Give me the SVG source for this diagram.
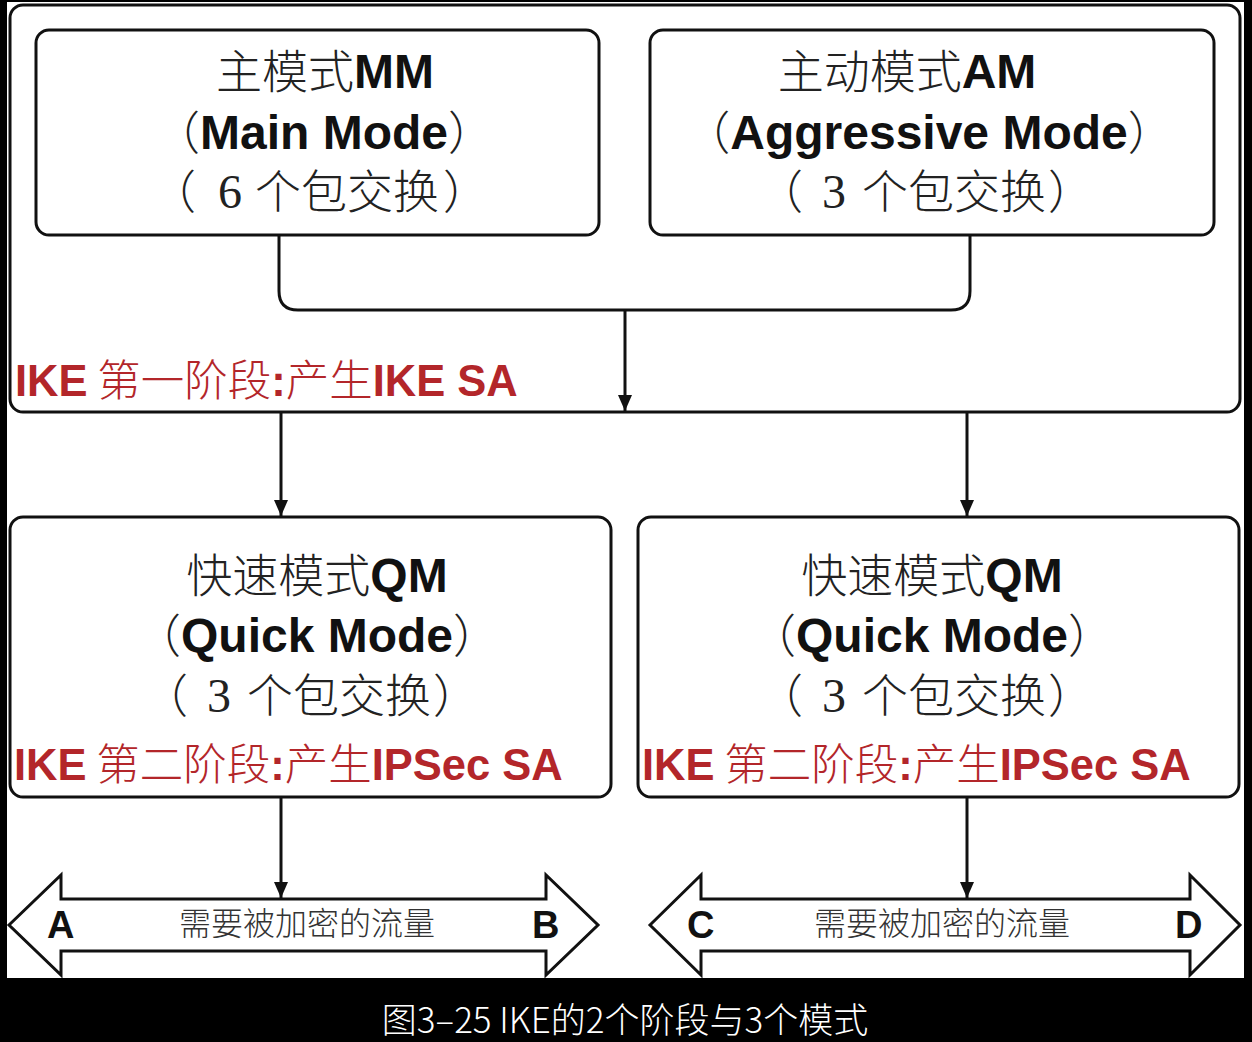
<svg xmlns="http://www.w3.org/2000/svg" width="1252" height="1042" viewBox="0 0 1252 1042">
<style>
.box{fill:#fff;stroke:#111;stroke-width:3}
.ln{fill:none;stroke:#111;stroke-width:3}
.dbl{fill:#fff;stroke:#111;stroke-width:3;stroke-linejoin:miter}
.t{font-family:"Noto Sans CJK SC","Liberation Sans",sans-serif;font-size:46px;fill:#222;font-weight:300;text-anchor:middle}
.ts{font-family:"Noto Sans CJK SC","Liberation Sans",sans-serif;font-size:46px;fill:#222;font-weight:300}
.b{font-family:"Liberation Sans",Arial,sans-serif;font-weight:bold;fill:#111}
.s{font-family:"Liberation Serif","Noto Sans CJK SC",serif;fill:#222;font-size:48px}
.red{font-family:"Noto Sans CJK SC","Liberation Sans",sans-serif;font-size:43.5px;fill:#b3262a;font-weight:300}
.rb{font-family:"Liberation Sans",Arial,sans-serif;font-weight:bold}
.flow{font-family:"Noto Sans CJK SC",sans-serif;font-size:32px;fill:#333;text-anchor:middle;font-weight:300}
.let{font-family:"Liberation Sans",Arial,sans-serif;font-weight:bold;font-size:38px;fill:#111}
.cap{font-family:"Noto Sans CJK SC","Liberation Sans",sans-serif;font-size:35px;fill:#fff;text-anchor:middle;font-weight:300}
</style>
<defs>
<marker id="ah" markerUnits="userSpaceOnUse" markerWidth="16" markerHeight="14" refX="16" refY="7" orient="auto">
<path d="M0,0 L16,7 L0,14 z" fill="#111"/>
</marker>
</defs>
<rect x="0" y="0" width="1252" height="1042" fill="#000"/>
<rect x="7" y="2" width="1237" height="976" fill="#fff"/>

<g id="phase1">
<rect class="box" x="10" y="5" width="1230" height="407" rx="13"/>
<text class="red" x="15" y="396"><tspan class="rb">IKE</tspan> 第一阶段<tspan class="rb">:</tspan>产生<tspan class="rb">IKE SA</tspan></text>
</g>

<g id="mm">
<rect class="box" x="36" y="30" width="563" height="205" rx="13"/>
<text class="t" x="325" y="88">主模式<tspan class="b" font-size="48">MM</tspan></text>
<text class="t" x="324" y="149">（<tspan class="b" font-size="48">Main Mode</tspan>）</text>
<text class="ts" y="208"><tspan x="150">（</tspan><tspan class="s" x="218">6</tspan><tspan x="255">个包交换</tspan><tspan x="443">）</tspan></text>
</g>

<g id="am">
<rect class="box" x="650" y="30" width="564" height="205" rx="13"/>
<text class="t" x="907" y="88">主动模式<tspan class="b" font-size="48">AM</tspan></text>
<text class="t" x="929" y="149">（<tspan class="b" font-size="48">Aggressive Mode</tspan>）</text>
<text class="ts" y="208"><tspan x="757">（</tspan><tspan class="s" x="822">3</tspan><tspan x="862">个包交换</tspan><tspan x="1048">）</tspan></text>
</g>

<g id="qm1">
<rect class="box" x="10" y="517" width="601" height="280" rx="13"/>
<text class="t" x="317" y="592">快速模式<tspan class="b" font-size="48">QM</tspan></text>
<text class="t" x="317" y="652">（<tspan class="b" font-size="48">Quick Mode</tspan>）</text>
<text class="ts" y="712"><tspan x="142">（</tspan><tspan class="s" x="207">3</tspan><tspan x="247">个包交换</tspan><tspan x="433">）</tspan></text>
<text class="red" x="14" y="780"><tspan class="rb">IKE</tspan> 第二阶段<tspan class="rb">:</tspan>产生<tspan class="rb">IPSec SA</tspan></text>
</g>

<g id="qm2">
<rect class="box" x="638" y="517" width="601" height="280" rx="13"/>
<text class="t" x="932" y="592">快速模式<tspan class="b" font-size="48">QM</tspan></text>
<text class="t" x="932" y="652">（<tspan class="b" font-size="48">Quick Mode</tspan>）</text>
<text class="ts" y="712"><tspan x="757">（</tspan><tspan class="s" x="822">3</tspan><tspan x="862">个包交换</tspan><tspan x="1048">）</tspan></text>
<text class="red" x="642" y="780"><tspan class="rb">IKE</tspan> 第二阶段<tspan class="rb">:</tspan>产生<tspan class="rb">IPSec SA</tspan></text>
</g>

<g id="flowAB">
<polygon class="dbl" points="9,925 61,875 61,899 546,899 546,875 598,925 546,975 546,951 61,951 61,975"/>
<text class="let" x="47" y="938">A</text>
<text class="flow" x="307" y="935">需要被加密的流量</text>
<text class="let" x="532" y="938">B</text>
</g>

<g id="flowCD">
<polygon class="dbl" points="650,925 701,875 701,899 1190,899 1190,875 1240,925 1190,975 1190,951 701,951 701,975"/>
<text class="let" x="687" y="938">C</text>
<text class="flow" x="942" y="935">需要被加密的流量</text>
<text class="let" x="1175" y="938">D</text>
</g>

<g id="connectors">
<path class="ln" d="M279,235 V291 Q279,310 298,310 H951 Q970,310 970,291 V235"/>
<path class="ln" d="M625,310 V411" marker-end="url(#ah)"/>
<path class="ln" d="M281,413 V516" marker-end="url(#ah)"/>
<path class="ln" d="M967,413 V516" marker-end="url(#ah)"/>
<path class="ln" d="M281,798 V898" marker-end="url(#ah)"/>
<path class="ln" d="M967,798 V898" marker-end="url(#ah)"/>
</g>

<rect x="0" y="978" width="1252" height="64" fill="#000"/>
<rect x="1244" y="0" width="8" height="978" fill="#000"/>
<text class="cap" x="625" y="1033">图3–25 IKE的2个阶段与3个模式</text>
</svg>
